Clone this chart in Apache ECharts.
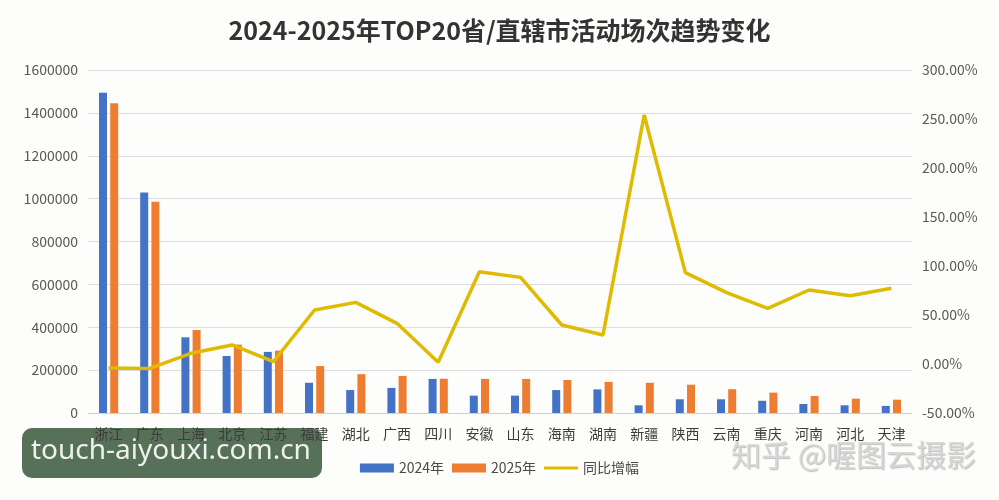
<!DOCTYPE html>
<html>
<head>
<meta charset="utf-8">
<script src="https://cdn.jsdelivr.net/npm/echarts@6/dist/echarts.min.js"></script>
<style>
  html, body { margin: 0; padding: 0; background: #fdfdfb; }
  #chart { width: 999px; height: 500px; }
</style>
</head>
<body>
<div id="chart"></div>
<script>
const provinces = ["浙江", "广东", "上海", "北京", "江苏", "福建", "湖北", "广西", "四川", "安徽",
  "山东", "海南", "湖南", "新疆", "陕西", "云南", "重庆", "河南", "河北", "天津"];
const sessions2024 = [1494000, 1028000, 353000, 266000, 285000, 141000, 107000, 117000, 159000, 81000,
  81000, 107000, 110000, 36000, 64000, 64000, 57000, 42000, 36000, 33000];
const sessions2025 = [1445000, 986000, 387000, 319000, 291000, 219000, 181000, 173000, 160000, 159000,
  159000, 154000, 145000, 141000, 132000, 111000, 95000, 79000, 67000, 62000];
// 同比增幅, in percent
const yoyGrowth = [-4.2, -4.5, 10.9, 19.4, 2.4, 55.1, 62.9, 41.5, 1.7, 94.2,
  88.4, 39.8, 29.6, 254.1, 93.2, 72.8, 56.8, 75.5, 69.7, 77.2];

const font = "'Noto Sans CJK SC', 'Noto Sans', sans-serif";
const chart = echarts.init(document.getElementById("chart"));

chart.setOption({
  backgroundColor: "#fdfdfb",
  textStyle: { fontFamily: font },
  title: {
    text: "2024-2025年TOP20省/直辖市活动场次趋势变化",
    left: "center",
    top: 13,
    textStyle: { fontFamily: font, fontSize: 25, fontWeight: "bold", color: "#333333" },
  },
  legend: {
    bottom: 20,
    left: "center",
    itemWidth: 34,
    itemHeight: 9,
    itemGap: 8,
    textStyle: { fontFamily: font, fontSize: 14, color: "#4a4a4a" },
    data: [
      { name: "2024年", icon: "rect" },
      { name: "2025年", icon: "rect" },
      { name: "同比增幅", icon: "path://M0,0 L34,0 L34,3 L0,3 Z", itemStyle: { color: "#dfbb00" } },
    ],
  },
  grid: { left: 88, right: 87, top: 70, bottom: 87 },
  xAxis: {
    type: "category",
    data: provinces,
    axisTick: { show: false },
    axisLine: { lineStyle: { color: "#d0d0d0" } },
    axisLabel: { fontSize: 14, color: "#3c3c3c", margin: 14, interval: 0 },
  },
  yAxis: [
    {
      type: "value",
      min: 0,
      max: 1600000,
      interval: 200000,
      axisLabel: { fontSize: 14, color: "#595959", margin: 10, formatter: (v) => String(v) },
      splitLine: { lineStyle: { color: "#dcdde3" } },
    },
    {
      type: "value",
      min: -50,
      max: 300,
      interval: 50,
      axisLabel: { fontSize: 14, color: "#595959", margin: 10, formatter: (v) => v.toFixed(2) + "%" },
      splitLine: { show: false },
    },
  ],
  series: [
    {
      name: "2024年",
      type: "bar",
      data: sessions2024,
      barWidth: 8,
      barGap: "40%",
      itemStyle: { color: "#4472c4" },
    },
    {
      name: "2025年",
      type: "bar",
      data: sessions2025,
      barWidth: 8,
      itemStyle: { color: "#ed7d31" },
    },
    {
      name: "同比增幅",
      type: "line",
      yAxisIndex: 1,
      data: yoyGrowth,
      symbol: "none",
      lineStyle: { color: "#dfbb00", width: 3.5 },
      itemStyle: { color: "#dfbb00" },
      z: 5,
    },
  ],
  // watermarks sit on a lower layer so the axis labels show on top of the green box
  graphic: {
    zlevel: -1,
    elements: [
      {
        type: "rect",
        left: 22,
        top: 428,
        shape: { width: 300, height: 50, r: 10 },
        style: { fill: "#577058" },
      },
      {
        type: "text",
        left: 31,
        top: 437,
        style: { text: "touch-aiyouxi.com.cn", fill: "#eef1ec", font: "28px 'Noto Sans', sans-serif" },
      },
      {
        type: "text",
        left: 731,
        top: 440,
        style: {
          text: "知乎 @喔图云摄影",
          fill: "rgba(214,214,214,0.9)",
          font: "30px 'Noto Sans CJK SC', sans-serif",
          textShadowColor: "rgba(120,120,120,0.5)",
          textShadowBlur: 1,
          textShadowOffsetX: 1,
          textShadowOffsetY: 1,
        },
      },
    ],
  },
});
</script>
</body>
</html>
